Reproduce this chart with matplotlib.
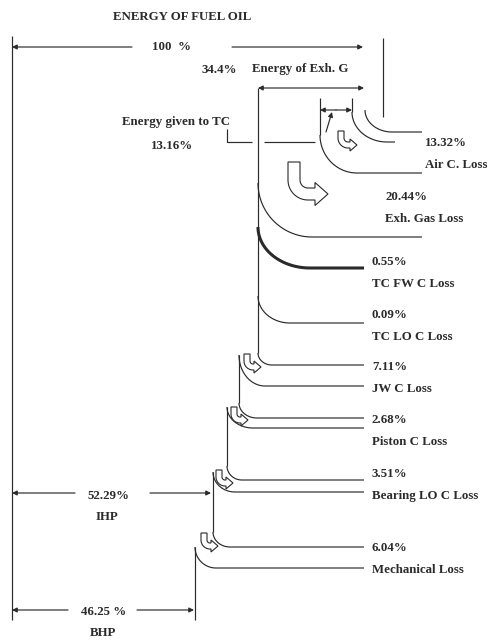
import numpy as np
import matplotlib
matplotlib.use("Agg")
import matplotlib.pyplot as plt
from matplotlib.patches import Polygon

# ---- data ----
loss_labels = ["Air C. Loss", "Exh. Gas Loss", "TC FW C Loss", "TC LO C Loss",
               "JW C Loss", "Piston C Loss", "Bearing LO C Loss", "Mechanical Loss"]
loss_pcts = ["13.32%", "20.44%", "0.55%", "0.09%", "7.11%", "2.68%", "3.51%", "6.04%"]
total_pct = "100  %"
exh_pct = "34.4%"
tc_pct = "13.16%"
ihp_pct = "52.29%"
bhp_pct = "46.25 %"

# label anchor positions (pixel coords, y down)
label_x = [425, 385, 372, 372, 372, 372, 372, 372]
label_y = [143, 197, 262, 315, 367, 420, 474, 548]

INK = "#2a2a2a"
LW = 0.85
FONT = "Liberation Serif"
FS = 9.3

fig = plt.figure(figsize=(4.93, 6.41), dpi=100, facecolor="white")
ax = fig.add_axes([0, 0, 1, 1])
ax.set_xlim(0, 493)
ax.set_ylim(641, 0)
ax.axis("off")


def line(xs, ys, lw=LW):
    ax.plot(xs, ys, color=INK, lw=lw, solid_capstyle="butt")


def bend(x0, y0, x1, y1, xend, lw=LW, ytop=None):
    """vertical tangent at (x0,y0) -> quarter ellipse -> horizontal to xend"""
    if ytop is not None:
        line([x0, x0], [ytop, y0], lw)
    t = np.linspace(0, np.pi / 2, 40)
    xs = x1 - (x1 - x0) * np.cos(t)
    ys = y0 + (y1 - y0) * np.sin(t)
    xs = np.append(xs, xend)
    ys = np.append(ys, y1)
    line(xs, ys, lw)


def arrow(x0, y0, x1, y1, style="-|>"):
    ax.annotate("", xy=(x1, y1), xytext=(x0, y0),
                arrowprops=dict(arrowstyle=style, color=INK, lw=LW,
                                mutation_scale=7, shrinkA=0, shrinkB=0))


def hollow(x0, y0, s, R, L1, L2, b, a):
    cx, cy = x0 + s / 2 + R, y0 + L1
    t = np.linspace(0, np.pi / 2, 20)
    ro, ri = R + s / 2, R - s / 2
    pts = [(x0, y0), (x0, cy)]
    pts += list(zip(cx - ro * np.cos(t), cy + ro * np.sin(t)))
    yc = cy + R
    pts += [(cx + L2, yc + s / 2), (cx + L2, yc + s / 2 + a), (cx + L2 + b, yc),
            (cx + L2, yc - s / 2 - a), (cx + L2, yc - s / 2)]
    pts += list(zip(cx - ri * np.cos(t[::-1]), cy + ri * np.sin(t[::-1])))
    pts += [(x0 + s, y0)]
    ax.add_patch(Polygon(pts, closed=True, fc="white", ec=INK, lw=0.8, zorder=5))


def txt(x, y, s, ha="center"):
    ax.text(x, y, s, ha=ha, va="center", fontsize=FS, family=FONT,
            fontweight="bold", color="#2b2b2b")


# title and total
txt(182, 17, "ENERGY OF FUEL OIL")
line([12, 12], [36, 620])
arrow(132, 47, 12, 47)
arrow(232, 47, 363, 47)
txt(172, 47, total_pct)
line([383, 383], [38, 117])

# exhaust gas energy
txt(219, 70, exh_pct)
txt(300, 69, "Energy of Exh. G")
arrow(258, 88, 364, 88, "<|-|>")
bend(258, 353, 272, 365, 364, ytop=88)
bend(258, 183, 312, 237, 422)
bend(258, 227, 310, 268, 364, lw=2.2)
bend(258, 296, 290, 323, 364)

# turbocharger
bend(320, 135, 357, 173, 422, ytop=98)
bend(352, 112, 387, 142, 395, ytop=98)
bend(365, 110, 392, 132, 422)
arrow(336, 110, 320, 110)
arrow(336, 110, 352, 110)
arrow(326, 132, 332, 112)
line([227, 227, 252], [129, 142, 142])
line([264, 315], [142, 142])
txt(176, 122, "Energy given to TC")
txt(172, 146, tc_pct)

# engine stages
bend(239, 355, 265, 386, 364)
bend(239, 403, 257, 418, 364, ytop=355)
bend(227, 407, 253, 428, 364)
bend(227, 466, 242, 480, 364, ytop=407)
bend(213, 472, 235, 492, 364)
bend(213, 532, 230, 547, 364, ytop=472)
bend(195, 547, 216, 568, 364)
line([195, 195], [547, 620])

# flow arrows
hollow(288, 162, 12, 14, 18, 7, 13, 5.5)
hollow(338, 131, 6, 7, 7, 2, 7, 3)
for hx, hy in [(244, 354), (231, 407), (216, 470), (201, 533)]:
    hollow(hx, hy, 6, 6, 7, 1, 7, 3)

# loss labels
for lbl, pct, lx, ly in zip(loss_labels, loss_pcts, label_x, label_y):
    txt(lx, ly, pct, ha="left")
    txt(lx, ly + 22, lbl, ha="left")

# IHP / BHP
arrow(75, 493, 12, 493)
arrow(150, 493, 211, 493)
txt(109, 496, ihp_pct)
txt(107, 517, "IHP")
arrow(68, 610, 12, 610)
arrow(137, 610, 194, 610)
txt(104, 612, bhp_pct)
txt(103, 633, "BHP")

fig.savefig("out.png", dpi=100, facecolor="white")
